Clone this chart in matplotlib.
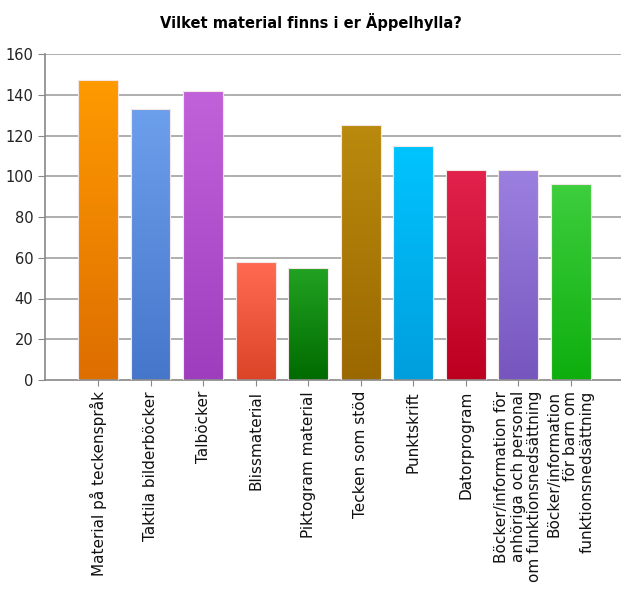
import numpy as np
import matplotlib.pyplot as plt
import matplotlib
from matplotlib.colors import LinearSegmentedColormap

matplotlib.rcParams['font.family'] = 'DejaVu Sans'

categories = ['Material på teckenspråk', 'Taktila bilderböcker', 'Talböcker',
              'Blissmaterial', 'Piktogram material', 'Tecken som stöd',
              'Punktskrift', 'Datorprogram',
              'Böcker/information för\nanhöriga och personal\nom funktionsnedsättning',
              'Böcker/information\nför barn om\nfunktionsnedsättning']
values = [147, 133, 142, 58, 55, 125, 115, 103, 103, 96]
# (top colour, bottom colour) of each bar's gradient
colors_top = ['#FF9A00', '#6C9FEC', '#C262DA', '#FF6B52', '#22A322',
              '#BA8A0E', '#00C4FF', '#E2224C', '#9C80E0', '#3ECE3E']
colors_bot = ['#DD6E00', '#4676CA', '#9E3EBE', '#DC4428', '#006A00',
              '#9A6800', '#009EDD', '#BC0020', '#7656BE', '#0EAE0E']

fig = plt.figure(figsize=(6.21, 5.92), dpi=100)
fig.patch.set_facecolor('white')
ax = fig.add_axes([45 / 621, 212 / 592, 1 - 45 / 621, (380 - 54) / 592])

x = np.arange(len(values))
width = 0.76
for yv in range(20, 161, 20):
    ax.axhline(yv, color='#A8A8A8', linewidth=1.3, zorder=0)

bars = ax.bar(x, values, width=width, color='none', edgecolor='#F2E6E6',
              linewidth=0.8, zorder=3)
grad = np.linspace(1, 0, 256).reshape(-1, 1)
for b, ct, cb in zip(bars, colors_top, colors_bot):
    cmap = LinearSegmentedColormap.from_list('g', [cb, ct])
    x0, y0 = b.get_x(), b.get_y()
    im = ax.imshow(grad, cmap=cmap, aspect='auto', zorder=2,
                   extent=[x0, x0 + b.get_width(), y0, y0 + b.get_height()])
    im.set_clip_path(b)

ax.set_xlim(-1.01, 9.96)
ax.set_ylim(0, 160)
ax.set_yticks(range(0, 161, 20))
ax.set_xticks(x)
ax.set_xticklabels(categories, rotation=90, fontsize=11, color='#111111',
                   multialignment='right', linespacing=1.1)
ax.tick_params(axis='y', labelsize=10.5, colors='#222222', length=5,
               color='#888888')
ax.tick_params(axis='x', length=4, color='#888888', pad=4)
for s in ['top', 'right']:
    ax.spines[s].set_visible(False)
for s in ['left', 'bottom']:
    ax.spines[s].set_color('#888888')
    ax.spines[s].set_linewidth(1.2)

fig.text(0.5, 1 - 22 / 592, 'Vilket material finns i er Äppelhylla?',
         ha='center', va='center', fontsize=10.5, fontweight='bold')

plt.savefig('out.png', dpi=100)
plt.close()
